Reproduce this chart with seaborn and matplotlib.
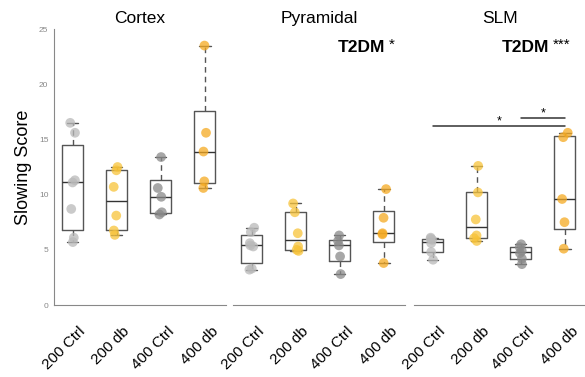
import numpy as np
import pandas as pd
import matplotlib
matplotlib.use("Agg")
import matplotlib.pyplot as plt
import matplotlib.transforms as mtransforms
import seaborn as sns

# ==========================================
# Data
# ==========================================
groups = ["200 Ctrl", "200 db", "400 Ctrl", "400 db"]
regions = ["Cortex", "Pyramidal", "SLM"]

cortex_200_ctrl = [5.7, 6.1, 8.7, 11.1, 11.3, 15.6, 16.5]
cortex_200_db = [6.35, 6.75, 8.1, 10.7, 12.2, 12.5]
cortex_400_ctrl = [8.2, 8.4, 9.8, 10.6, 13.4]
cortex_400_db = [10.6, 11.2, 13.9, 15.6, 23.5]

pyramidal_200_ctrl = [3.2, 3.3, 5.3, 5.4, 5.6, 6.6, 7.0]
pyramidal_200_db = [4.9, 5.0, 5.3, 6.5, 8.4, 9.2]
pyramidal_400_ctrl = [2.8, 4.4, 5.4, 5.8, 6.3]
pyramidal_400_db = [3.8, 6.4, 6.5, 7.9, 10.5]

slm_200_ctrl = [4.1, 4.8, 5.6, 5.9, 6.0, 6.1]
slm_200_db = [5.8, 6.05, 6.3, 7.75, 10.2, 12.6]
slm_400_ctrl = [3.7, 4.2, 4.7, 4.9, 5.25, 5.5]
slm_400_db = [5.1, 7.5, 9.6, 15.2, 15.6]

stat_labels = ["", "T2DM", "T2DM"]
stat_stars = ["", "*", "***"]

data = {
    "Cortex": [cortex_200_ctrl, cortex_200_db, cortex_400_ctrl, cortex_400_db],
    "Pyramidal": [pyramidal_200_ctrl, pyramidal_200_db, pyramidal_400_ctrl, pyramidal_400_db],
    "SLM": [slm_200_ctrl, slm_200_db, slm_400_ctrl, slm_400_db],
}

rows = []
for reg in regions:
    for g, vals in zip(groups, data[reg]):
        for v in vals:
            rows.append([reg, g, v])
df = pd.DataFrame(rows, columns=["Region", "Group", "Score"])

palette = {"200 Ctrl": "#b9b9b9", "200 db": "#f7c33a",
           "400 Ctrl": "#8a8a8a", "400 db": "#f5aa22"}


def box_stats(vals):
    # MATLAB-style quartiles
    v = np.asarray(vals)
    q1, med, q3 = np.percentile(v, [25, 50, 75], method="hazen")
    iqr = q3 - q1
    lo = v[v >= q1 - 1.5 * iqr].min()
    hi = v[v <= q3 + 1.5 * iqr].max()
    return dict(med=med, q1=q1, q3=q3, whislo=lo, whishi=hi, fliers=[])


sns.set_style("white")
plt.rcParams["font.family"] = ["Liberation Sans", "DejaVu Sans"]
plt.rcParams["text.color"] = "black"
plt.rcParams["axes.labelcolor"] = "black"
plt.rcParams["xtick.color"] = "black"

np.random.seed(3)

fig = plt.figure(figsize=(5.85, 3.77), dpi=100)
W, H = 585, 377
lefts = [54, 233, 414]
ax_w = 172
ax_bottom, ax_top = 305, 29

edge = "#555555"
shift = mtransforms.ScaledTranslation(6 / 100, -11 / 100, fig.dpi_scale_trans)
axes = []
for i, reg in enumerate(regions):
    ax = fig.add_axes([lefts[i] / W, 1 - ax_bottom / H, ax_w / W, (ax_bottom - ax_top) / H])
    axes.append(ax)
    stats = [box_stats(v) for v in data[reg]]
    ax.bxp(stats, positions=range(4), widths=0.48, capwidths=0.26,
           showfliers=False, manage_ticks=False,
           boxprops=dict(color=edge, lw=1),
           medianprops=dict(color="#333333", lw=1),
           whiskerprops=dict(color=edge, lw=1, ls=(0, (4, 3))),
           capprops=dict(color=edge, lw=1))
    sub = df[df["Region"] == reg]
    sns.stripplot(data=sub, x="Group", y="Score", hue="Group", order=groups,
                  hue_order=groups, palette=palette, size=7, alpha=0.75,
                  jitter=0.07, linewidth=0, legend=False, ax=ax, zorder=3)
    ax.set_xlim(-0.42, 3.48)
    ax.set_ylim(0, 25)
    ax.set_xlabel("")
    ax.set_ylabel("")
    ax.set_xticks(range(4))
    ax.tick_params(axis="x", direction="in", length=3, color="#888888", pad=6)
    ax.set_xticklabels(groups, rotation=45, ha="right", va="top",
                       rotation_mode="anchor", fontsize=11)
    ax.set_title(reg, fontsize=12.5, pad=4)
    for s in ["top", "right"]:
        ax.spines[s].set_visible(False)
    ax.spines["bottom"].set_color("#888888")
    ax.spines["left"].set_color("#888888")
    if i == 0:
        ax.set_yticks([0, 5, 10, 15, 20, 25])
        ax.tick_params(axis="y", direction="in", length=3, color="#888888",
                       labelsize=6, labelcolor="#888888", pad=4)
        ax.set_ylabel("Slowing Score", fontsize=13, labelpad=5)
    else:
        ax.spines["left"].set_visible(False)
        ax.set_yticks([])
    for lab in ax.get_xticklabels():
        lab.set_transform(lab.get_transform() + shift)
    if stat_labels[i]:
        xe = 3.03 if i == 1 else 2.65
        ax.text(xe, 23.3, stat_labels[i], fontsize=12.5, fontweight="bold",
                ha="right", va="center")
        ax.text(xe + 0.08, 23.6, stat_stars[i], fontsize=11, ha="left", va="center")

# significance bars on SLM
ax = axes[2]
ax.plot([0, 3], [16.2, 16.2], color="#333333", lw=1.1, clip_on=False)
ax.text(1.5, 16.1, "*", fontsize=9, ha="center", va="bottom")
ax.plot([2, 3], [16.9, 16.9], color="#333333", lw=1.1, clip_on=False)
ax.text(2.5, 16.8, "*", fontsize=9, ha="center", va="bottom")

fig.savefig("out.png", dpi=100)
